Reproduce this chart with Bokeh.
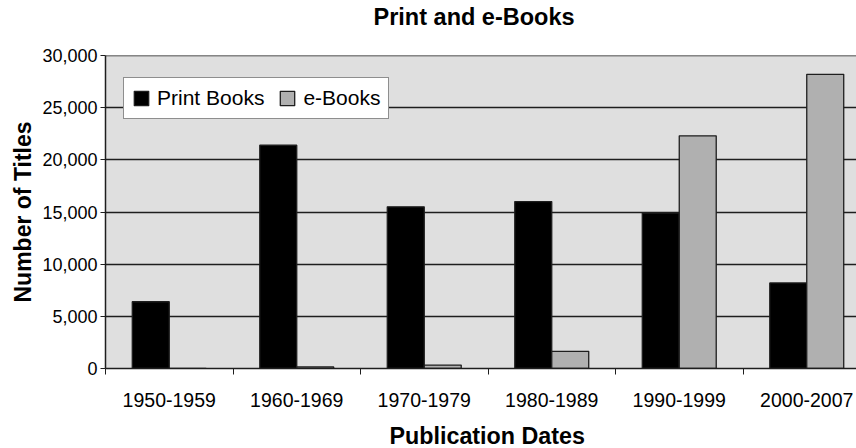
from bokeh.plotting import figure
from bokeh.models import (Range1d, FixedTicker, NumeralTickFormatter, Legend,
                          LegendItem, ColumnDataSource, Title, Span)
from bokeh.transform import dodge
from bokeh.embed import file_html
from bokeh.resources import INLINE

# ---- data ----
categories = ["1950-1959", "1960-1969", "1970-1979", "1980-1989", "1990-1999", "2000-2007"]
print_books = [6400, 21400, 15500, 16000, 14900, 8200]
ebooks = [0, 150, 330, 1650, 22300, 28200]
y_ticks = [0, 5000, 10000, 15000, 20000, 25000, 30000]

FONT = "Liberation Sans"
n = len(categories)
centers = [i + 0.5 for i in range(n)]
boundaries = list(range(n + 1))

src = ColumnDataSource(dict(x=centers, cat=categories, pb=print_books, eb=ebooks))

p = figure(width=856, height=448, output_backend="svg", toolbar_location=None,
           x_range=Range1d(0, 751 / 127.5), y_range=Range1d(0, 30000),
           min_border_left=105, min_border_right=0, min_border_top=55,
           min_border_bottom=79,
           background_fill_color="#dfdfdf", border_fill_color="white")
p.outline_line_color = None

xa = p.below[0]
ya = p.left[0]

# title
p.title.text = "Print and e-Books"
p.title.align = "left"
p.title.offset = 268
p.title.text_font = FONT
p.title.text_font_size = "23.5px"
p.title.text_font_style = "bold"
p.title.text_color = "black"
p.title.standoff = 0

# spacer between the title and the plot area
p.add_layout(Title(text=" ", text_font_size="1px", standoff=23), "above")

# top border line of the plot area
p.add_layout(Span(location=30000, dimension="width", line_color="#1e1e1e", line_width=1.5))

# grid
p.xgrid.visible = False
p.ygrid.ticker = FixedTicker(ticks=y_ticks)
p.ygrid.grid_line_color = "#1e1e1e"
p.ygrid.grid_line_width = 1.3

# bars
w = 0.29
r1 = p.vbar(x=dodge("x", -w / 2, range=p.x_range), top="pb", width=w, source=src,
            fill_color="black", line_color="#1e1e1e", line_width=1.3)
r2 = p.vbar(x=dodge("x", w / 2, range=p.x_range), top="eb", width=w, source=src,
            fill_color="#b0b0b0", line_color="#1e1e1e", line_width=1.3)

# y axis
ya.ticker = FixedTicker(ticks=y_ticks)
ya.formatter = NumeralTickFormatter(format="0,0")
ya.major_tick_out = 5
ya.major_tick_in = 0
ya.major_tick_line_color = "#1e1e1e"
ya.minor_tick_line_color = None
ya.axis_line_color = "#1e1e1e"
ya.axis_line_width = 1.5
ya.major_label_text_font = FONT
ya.major_label_text_font_size = "18px"
ya.major_label_text_color = "black"
ya.major_label_standoff = 3
ya.axis_label = "Number of Titles"
ya.axis_label_text_font = FONT
ya.axis_label_text_font_size = "23px"
ya.axis_label_text_font_style = "bold"
ya.axis_label_text_color = "black"
ya.axis_label_standoff = 3

# x axis
xa.ticker = FixedTicker(ticks=centers, minor_ticks=boundaries)
xa.major_label_overrides = {c: lab for c, lab in zip(centers, categories)}
xa.major_tick_line_color = None
xa.major_tick_out = 6
xa.major_tick_in = 0
xa.minor_tick_out = 6
xa.minor_tick_in = 0
xa.minor_tick_line_color = "#1e1e1e"
xa.axis_line_color = "#1e1e1e"
xa.axis_line_width = 1.5
xa.major_label_text_font = FONT
xa.major_label_text_font_size = "19.5px"
xa.major_label_text_color = "black"
xa.major_label_standoff = 18
# tiny invisible axis label used as a spacer before the axis title
xa.axis_label = " "
xa.axis_label_text_font_size = "1px"
xa.axis_label_standoff = 7

# x axis title (a below-title, so it can be centred on the full,
# partly cut-off, plot area as in the reference)
xt = Title(text="Publication Dates", align="left", offset=284,
           text_font=FONT, text_font_size="23.3px", text_font_style="bold",
           text_color="black", standoff=0)
p.add_layout(xt, "below")

# legend
legend = Legend(items=[LegendItem(label="Print Books", renderers=[r1]),
                       LegendItem(label="e-Books", renderers=[r2])],
                location=(18, 249), orientation="horizontal",
                border_line_color="#1e1e1e", border_line_width=1.5,
                background_fill_color="white", background_fill_alpha=1,
                padding=8, spacing=14, label_standoff=7, margin=0,
                glyph_width=18, glyph_height=18,
                label_text_font=FONT, label_text_font_size="21px",
                label_text_color="black")
p.add_layout(legend)

open("out.html", "w").write(file_html(p, INLINE))
